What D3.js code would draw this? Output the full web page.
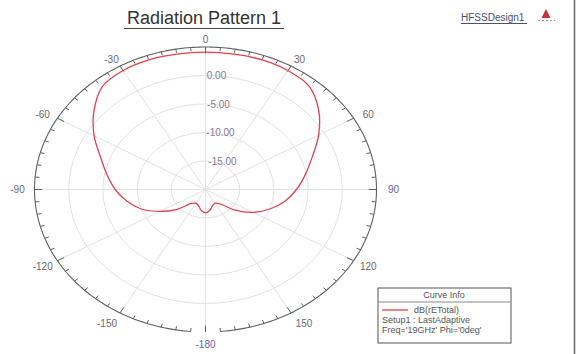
<!DOCTYPE html>
<meta charset="utf-8">
<style>
body { margin: 0; background: #fff; }
text { font-family: "Liberation Sans", Arial, sans-serif; }
</style>
<body id="chart"></body>
<script src="https://cdn.jsdelivr.net/npm/d3@7"></script>
<script>
// pattern data: theta (deg) and dB(rETotal)
var angles = [-180,-170,-160,-150,-140,-130,-120,-110,-100,-90,-80,-70,-60,-50,-40,-30,-20,-10,
              0,10,20,30,40,50,60,70,80,90,100,110,120,130,140,150,160,170];
var gainDb = [-15.9,-16.3,-17.0,-17.2,-16.8,-14.6,-12.3,-10.0,-8.3,-6.8,-5.4,-3.7,-1.2,1.3,3.5,4.1,4.2,4.1,
              4.1,4.1,4.2,4.1,3.6,1.6,-0.9,-3.4,-5.2,-6.7,-8.2,-10.0,-12.0,-14.4,-16.7,-17.2,-17.0,-16.3];
var ringVals = [0, -5, -10, -15];
var ringLabels = ["0.00", "-5.00", "-10.00", "-15.00"];
var spokeAngles = [0,30,60,90,120,150,180,-150,-120,-90,-60,-30];
var spokeLabels = ["0","30","60","90","120","150","-180","-150","-120","-90","-60","-30"];
var legendLines = ["Setup1 : LastAdaptive", "Freq='19GHz' Phi='0deg'"];

var width = 576, height = 354;
var cx = 205.5, cy = 189.5, rx = 171, ry = 142.5;

var svg = d3.select("#chart").append("svg")
    .attr("width", width)
    .attr("height", height);

// radius scale: dB -> fraction of the outer circle
var r = d3.scaleLinear().domain([-20, 5]).range([0, 1]);
var rad = function(deg){ return deg * Math.PI / 180; };
var px = function(deg, f){ return cx + rx * f * Math.sin(rad(deg)); };
var py = function(deg, f){ return cy - ry * f * Math.cos(rad(deg)); };

//grid rings
svg.append("g").selectAll("ellipse")
    .data(ringVals)
    .enter().append("ellipse")
    .attr("cx", cx).attr("cy", cy)
    .attr("rx", function(d){ return rx * r(d); })
    .attr("ry", function(d){ return ry * r(d); })
    .attr("fill", "none")
    .attr("stroke", "#e2e2e2")
    .attr("stroke-width", 1);

//spokes
svg.append("g").selectAll("line")
    .data(spokeAngles)
    .enter().append("line")
    .attr("x1", cx).attr("y1", cy)
    .attr("x2", function(d){ return px(d, 1); })
    .attr("y2", function(d){ return py(d, 1); })
    .attr("stroke", "#e2e2e2")
    .attr("stroke-width", 1);

//outer circle, with the little gap at the bottom
var arcPts = d3.range(-175, 175.5, 1);
svg.append("path")
    .attr("d", d3.line()
        .x(function(d){ return px(d, 1); })
        .y(function(d){ return py(d, 1); })(arcPts))
    .attr("fill", "none")
    .attr("stroke", "#5c645e")
    .attr("stroke-width", 1.1);

//ticks every 5 deg, pointing inward
var ticks = d3.range(-175, 180, 5).concat([180]);
svg.append("g").selectAll("line")
    .data(ticks)
    .enter().append("line")
    .attr("x1", function(d){ return px(d, 1); })
    .attr("y1", function(d){ return py(d, 1); })
    .attr("x2", function(d){ var k = (d % 30 === 0) ? 0.955 : 0.975; return px(d, k); })
    .attr("y2", function(d){ var k = (d % 30 === 0) ? 0.955 : 0.975; return py(d, k); })
    .attr("stroke", "#5c645e")
    .attr("stroke-width", 1);

//angle labels
svg.append("g").selectAll("text")
    .data(spokeAngles)
    .enter().append("text")
    .attr("x", function(d){
        var s = Math.sin(rad(d));
        return px(d, 1) + s * (Math.abs(d) === 150 ? 26 : 17);
    })
    .attr("y", function(d){
        var c = Math.cos(rad(d));
        return py(d, 1) - c * (c > 0 ? 8 : 12) + 3.5;
    })
    .attr("text-anchor", "middle")
    .attr("font-size", 10)
    .attr("fill", function(d){ return (d === 180 || d === 90) ? "#6a5f98" : "#6b6b6b"; })
    .text(function(d, i){ return spokeLabels[i]; });

//ring labels
svg.append("g").selectAll("text")
    .data(ringVals)
    .enter().append("text")
    .attr("x", function(d, i){ return cx + 11 + 2 * i; })
    .attr("y", function(d){ return cy - ry * r(d) + 3.5; })
    .attr("text-anchor", "middle")
    .attr("font-size", 10)
    .attr("fill", "#8a7890")
    .text(function(d, i){ return ringLabels[i]; });

//the pattern
var pts = angles.map(function(a, i){ return [a, gainDb[i]]; });
svg.append("path")
    .attr("d", d3.line()
        .x(function(d){ return px(d[0], r(d[1])); })
        .y(function(d){ return py(d[0], r(d[1])); })
        .curve(d3.curveCatmullRomClosed)(pts))
    .attr("fill", "none")
    .attr("stroke", "#e3414c")
    .attr("stroke-width", 1.3);

//title
svg.append("text")
    .attr("x", 204).attr("y", 24)
    .attr("text-anchor", "middle")
    .attr("font-size", 18)
    .attr("fill", "#333")
    .text("Radiation Pattern 1");
svg.append("line")
    .attr("x1", 124).attr("x2", 284).attr("y1", 28.5).attr("y2", 28.5)
    .attr("stroke", "#444").attr("stroke-width", 1);

//design name
svg.append("text")
    .attr("x", 461).attr("y", 21)
    .attr("font-size", 10)
    .attr("fill", "#4a5070")
    .text("HFSSDesign1");
svg.append("line")
    .attr("x1", 461).attr("x2", 527).attr("y1", 23.5).attr("y2", 23.5)
    .attr("stroke", "#4a5070").attr("stroke-width", 1);
svg.append("path")
    .attr("d", "M546,9 L550.5,18 L541.5,18 Z")
    .attr("fill", "#c8323c");
svg.append("line")
    .attr("x1", 538).attr("x2", 555).attr("y1", 20.5).attr("y2", 20.5)
    .attr("stroke", "#999").attr("stroke-width", 1).attr("stroke-dasharray", "2,2");

//right border
svg.append("line")
    .attr("x1", 574.5).attr("x2", 574.5).attr("y1", 0).attr("y2", height)
    .attr("stroke", "#666").attr("stroke-width", 1.5);

//legend
var lg = svg.append("g").attr("transform", "translate(378,288)");
lg.append("rect")
    .attr("width", 133).attr("height", 55)
    .attr("fill", "#fff").attr("stroke", "#555").attr("stroke-width", 1);
lg.append("line")
    .attr("x1", 0).attr("x2", 133).attr("y1", 14).attr("y2", 14)
    .attr("stroke", "#888");
lg.append("text")
    .attr("x", 66).attr("y", 10)
    .attr("text-anchor", "middle").attr("font-size", 9).attr("fill", "#555")
    .text("Curve Info");
lg.append("line")
    .attr("x1", 4).attr("x2", 30).attr("y1", 22).attr("y2", 22)
    .attr("stroke", "#e3414c").attr("stroke-width", 1.3);
lg.append("text")
    .attr("x", 36).attr("y", 25)
    .attr("font-size", 9).attr("fill", "#555")
    .text("dB(rETotal)");
lg.selectAll(".info")
    .data(legendLines)
    .enter().append("text")
    .attr("class", "info")
    .attr("x", 4).attr("y", function(d, i){ return 35 + i * 10; })
    .attr("font-size", 9).attr("fill", "#555")
    .text(function(d){ return d; });
</script>
